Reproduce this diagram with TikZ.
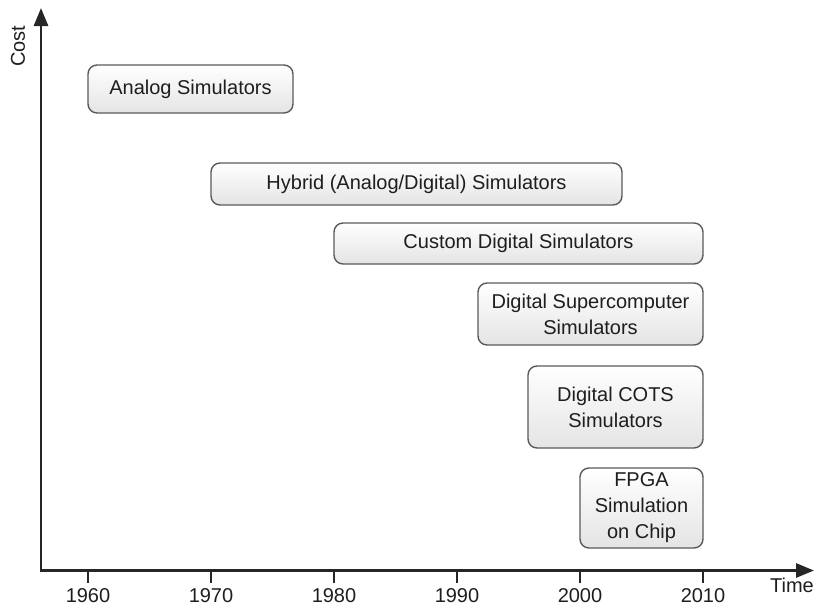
\documentclass[tikz,border=0pt]{standalone}
\usepackage{fontspec}
\setmainfont{Liberation Sans}
\usetikzlibrary{arrows.meta}
\definecolor{boxline}{HTML}{5A5A5A}
\definecolor{txt}{HTML}{1E1E1E}
\definecolor{boxbot}{HTML}{E4E4E4}
\begin{document}
\begin{tikzpicture}[x=1pt,y=-1pt,
  period/.style={draw=boxline, line width=1.4pt, rounded corners=9pt,
    top color=white, bottom color=boxbot, text=txt, align=center,
    inner sep=0pt, font=\fontsize{20}{26}\selectfont},
  axisline/.style={line width=2.8pt, draw=black!85, -{Triangle[length=18pt,width=14pt]}},
  tickline/.style={line width=2.4pt, draw=black!85},
  lbl/.style={text=txt, font=\fontsize{20}{23}\selectfont, inner sep=0pt}]
\useasboundingbox (0,0) rectangle (815,606);
% axes
\coordinate (O) at (41,570.5);
\coordinate (Ox) at (39.6,570.5);
\coordinate (ytop) at (41,8);
\coordinate (xend) at (814,570.5);
\draw[axisline] (O) -- (ytop);
\draw[axisline] (Ox) -- (xend);
\node[lbl, rotate=90] (cost) at (18,46) {Cost};
\node[lbl] (time) at (792,585) {Time};
% ticks and year labels
\foreach \yr/\xx in {1960/88,1970/211,1980/334,1990/457,2000/580,2010/703}{
  \coordinate (t\yr) at (\xx,570.5);
  \coordinate (e\yr) at (\xx,583);
  \node[lbl] (y\yr) at (\xx,596) {\yr};
  \draw[tickline] (t\yr) -- (e\yr);
}
% period boxes
\node[period, minimum width=205pt, minimum height=48pt] (analog) at (190.5,89) {Analog Simulators};
\node[period, minimum width=411pt, minimum height=42pt] (hybrid) at (416.5,184) {Hybrid (Analog/Digital) Simulators};
\node[period, minimum width=369pt, minimum height=41pt] (custom) at (518.5,243.5) {Custom Digital Simulators};
\node[period, minimum width=225pt, minimum height=62pt] (super) at (590.5,314) {Digital Supercomputer\\Simulators};
\node[period, minimum width=175pt, minimum height=82pt] (cots) at (615.5,407) {Digital COTS\\Simulators};
\node[period, minimum width=123pt, minimum height=80pt] (fpga) at (641.5,508) {FPGA\\Simulation\\on Chip};
\end{tikzpicture}
\end{document}
